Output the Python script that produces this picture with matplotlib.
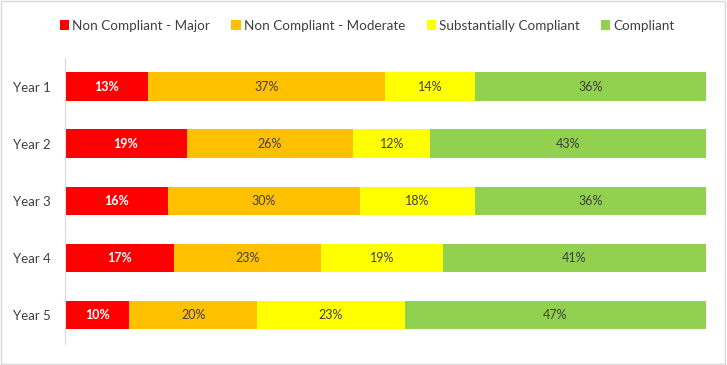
import matplotlib
matplotlib.use("Agg")
from matplotlib import pyplot as plt
from matplotlib.patches import Rectangle

years = ["Year 1", "Year 2", "Year 3", "Year 4", "Year 5"]
series = ["Non Compliant - Major", "Non Compliant - Moderate",
          "Substantially Compliant", "Compliant"]
major = [13, 19, 16, 17, 10]
moderate = [37, 26, 30, 23, 20]
substantial = [14, 12, 18, 19, 23]
compliant = [36, 43, 36, 41, 47]

colors = ["#FF0000", "#FFC000", "#FFFF00", "#92D050"]
text_colors = ["white", "#404040", "#404040", "#404040"]

plt.rcParams['font.family'] = ['Lato', 'DejaVu Sans']

fig = plt.figure(figsize=(7.27, 3.65), dpi=100)
ax = fig.add_axes([0.0894, 0.0586, 0.8816, 0.7824])

ypos = list(range(len(years)))
left = [0] * len(years)
for vals, col, tcol, name in zip([major, moderate, substantial, compliant],
                                 colors, text_colors, series):
    bars = ax.barh(ypos, vals, left=left, height=0.5, color=col, label=name)
    for b, v in zip(bars, vals):
        ax.text(b.get_x() + b.get_width() / 2, b.get_y() + b.get_height() / 2,
                "%d%%" % v, ha="center", va="center", fontsize=9,
                color=tcol, fontweight="bold" if tcol == "white" else "normal")
    left = [l + v for l, v in zip(left, vals)]

ax.set_xlim(0, 100)
ax.set_ylim(len(years) - 0.5, -0.5)
ax.set_yticks(ypos)
ax.set_yticklabels(years, fontsize=9.5, color="#404040")
ax.set_xticks([])
ax.tick_params(axis="y", length=0, pad=10)
for s in ["top", "right", "bottom"]:
    ax.spines[s].set_visible(False)
ax.spines["left"].set_color("#D9D9D9")

fig.legend(loc="center", bbox_to_anchor=(0.505, 0.93), ncol=4, frameon=False,
           fontsize=9.7, handlelength=0.7, handleheight=0.7, handletextpad=0.2,
           columnspacing=1.6, labelcolor="#404040")

fig.patches.append(Rectangle((0.002, 0.003), 0.995, 0.993, transform=fig.transFigure,
                             fill=False, edgecolor="#D9D9D9", linewidth=1))

fig.savefig("out.png", dpi=100)
